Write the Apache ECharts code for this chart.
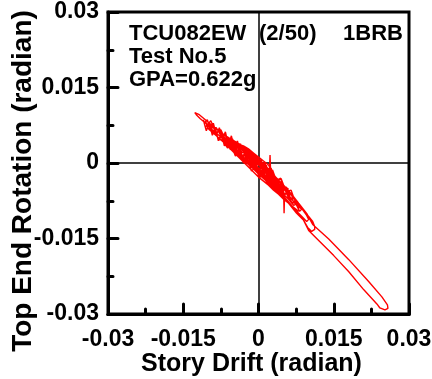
<!DOCTYPE html>
<html>
<head>
<meta charset="utf-8">
<script src="https://cdn.jsdelivr.net/npm/echarts@6/dist/echarts.min.js"></script>
<style>
html,body{margin:0;padding:0;background:#fff;}
#chart{width:432px;height:379px;}
</style>
</head>
<body>
<div id="chart"></div>
<script>
// Axis settings (tick values)
const xTicks = [-0.03, -0.015, 0, 0.015, 0.03];
const yTicks = [-0.03, -0.015, 0, 0.015, 0.03];
const xTitle = 'Story Drift (radian)';
const yTitle = 'Top End Rotation (radian)';
const noteLines = ['TCU082EW', 'Test No.5', 'GPA=0.622g'];
const noteRatio = '(2/50)';
const noteSpec = '1BRB';

// [story drift, top end rotation], in time order
const phaseStart = [
  [0.0000, 0.0000], [0.0006, -0.0010], [0.0014, -0.0020], [0.0020, -0.0028], [0.0014, -0.0026],
  [0.0004, -0.0016], [-0.0008, -0.0004], [-0.0018, 0.0004], [-0.0026, 0.0010], [-0.0020, 0.0012],
  [-0.0010, 0.0004], [0.0000, -0.0004], [0.0010, -0.0012], [0.0018, -0.0020], [0.0026, -0.0030],
  [0.0032, -0.0038], [0.0028, -0.0040], [0.0018, -0.0030], [0.0006, -0.0020], [-0.0006, -0.0008],
  [-0.0018, 0.0002], [-0.0030, 0.0012], [-0.0040, 0.0022], [-0.0046, 0.0030], [-0.0042, 0.0034],
  [-0.0032, 0.0028], [-0.0020, 0.0018], [-0.0008, 0.0006], [0.0004, -0.0004], [0.0014, -0.0010]
];
const phaseSpikes = [
  [0.0022, -0.0012], [0.0023, 0.0016], [0.0024, -0.0014], [0.0030, -0.0026], [0.0038, -0.0034],
  [0.0046, -0.0042], [0.0052, -0.0050], [0.0050, -0.0056], [0.0040, -0.0050], [0.0028, -0.0040],
  [0.0016, -0.0032], [0.0004, -0.0022], [-0.0008, -0.0010], [-0.0020, 0.0000], [-0.0034, 0.0012],
  [-0.0048, 0.0024], [-0.0060, 0.0036], [-0.0070, 0.0046], [-0.0076, 0.0054], [-0.0072, 0.0058],
  [-0.0062, 0.0052], [-0.0050, 0.0044], [-0.0036, 0.0034], [-0.0022, 0.0022], [-0.0010, 0.0010],
  [0.0002, -0.0002], [0.0012, -0.0010], [0.0016, -0.0004], [0.0017, -0.0016], [0.0026, -0.0024],
  [0.0036, -0.0032], [0.0046, -0.0042], [0.0050, -0.0054], [0.0051, -0.0100], [0.0052, -0.0060],
  [0.0060, -0.0064], [0.0068, -0.0074], [0.0074, -0.0082], [0.0070, -0.0084], [0.0060, -0.0072],
  [0.0048, -0.0060], [0.0036, -0.0050], [0.0024, -0.0038], [0.0012, -0.0028], [0.0000, -0.0018]
];
const phaseCore = [
  [0.0050, -0.0060], [0.0040, -0.0046], [0.0030, -0.0024], [0.0020, -0.0004], [0.0010, 0.0004],
  [0.0000, 0.0012], [-0.0010, 0.0020], [-0.0020, 0.0028], [-0.0030, 0.0034], [-0.0036, 0.0036],
  [-0.0032, 0.0028], [-0.0022, 0.0014], [-0.0012, 0.0002], [-0.0002, -0.0012], [0.0008, -0.0026],
  [0.0018, -0.0040], [0.0028, -0.0050], [0.0038, -0.0060], [0.0046, -0.0068], [0.0052, -0.0072],
  [0.0048, -0.0066], [0.0038, -0.0050], [0.0028, -0.0036], [0.0018, -0.0024], [0.0008, -0.0012],
  [-0.0002, 0.0000], [-0.0012, 0.0010], [-0.0022, 0.0018], [-0.0030, 0.0022], [-0.0026, 0.0016],
  [-0.0016, 0.0006], [-0.0006, -0.0006], [0.0004, -0.0016], [0.0014, -0.0026], [0.0022, -0.0034]
];
const phaseWide = [
  [0.0060, -0.0052], [0.0052, -0.0054], [0.0044, -0.0030], [0.0036, -0.0036], [0.0028, -0.0014],
  [0.0020, -0.0020], [0.0012, 0.0002], [0.0004, -0.0008], [-0.0004, 0.0014], [-0.0012, 0.0004],
  [-0.0020, 0.0026], [-0.0028, 0.0018], [-0.0036, 0.0038], [-0.0044, 0.0030], [-0.0052, 0.0048],
  [-0.0060, 0.0044], [-0.0068, 0.0058], [-0.0076, 0.0056], [-0.0084, 0.0070], [-0.0092, 0.0070],
  [-0.0098, 0.0078], [-0.0094, 0.0064], [-0.0086, 0.0058], [-0.0078, 0.0046], [-0.0070, 0.0046],
  [-0.0062, 0.0030], [-0.0054, 0.0034], [-0.0046, 0.0014], [-0.0038, 0.0022], [-0.0030, 0.0000],
  [-0.0022, 0.0008], [-0.0014, -0.0016], [-0.0006, -0.0008], [0.0002, -0.0030], [0.0010, -0.0018],
  [0.0018, -0.0040], [0.0026, -0.0030], [0.0034, -0.0052], [0.0042, -0.0044], [0.0050, -0.0064],
  [0.0058, -0.0060], [0.0066, -0.0078], [0.0074, -0.0080], [0.0082, -0.0096], [0.0086, -0.0092]
];
const phaseMid = [
  [0.0080, -0.0086], [0.0072, -0.0070], [0.0064, -0.0072], [0.0056, -0.0048], [0.0048, -0.0054],
  [0.0040, -0.0032], [0.0032, -0.0038], [0.0024, -0.0016], [0.0016, -0.0024], [0.0008, -0.0004],
  [0.0000, -0.0014], [-0.0008, 0.0008], [-0.0016, 0.0000], [-0.0024, 0.0022], [-0.0032, 0.0014],
  [-0.0040, 0.0034], [-0.0048, 0.0026], [-0.0056, 0.0046], [-0.0064, 0.0040], [-0.0070, 0.0054],
  [-0.0072, 0.0048], [-0.0066, 0.0034], [-0.0058, 0.0044], [-0.0050, 0.0022], [-0.0042, 0.0032],
  [-0.0034, 0.0008], [-0.0026, 0.0018], [-0.0018, -0.0006], [-0.0010, 0.0004], [-0.0002, -0.0020],
  [0.0006, -0.0008], [0.0014, -0.0030], [0.0022, -0.0020], [0.0030, -0.0044], [0.0038, -0.0034],
  [0.0046, -0.0058], [0.0054, -0.0050], [0.0060, -0.0070]
];
const phaseBand = [
  [0.0070, -0.0069], [0.0060, -0.0070], [0.0050, -0.0046], [0.0040, -0.0050], [0.0030, -0.0027],
  [0.0020, -0.0032], [0.0010, -0.0011], [0.0000, -0.0018], [-0.0010, 0.0004], [-0.0020, -0.0001],
  [-0.0030, 0.0022], [-0.0040, 0.0016], [-0.0050, 0.0038], [-0.0060, 0.0032], [-0.0070, 0.0054],
  [-0.0080, 0.0048], [-0.0090, 0.0071], [-0.0100, 0.0068], [-0.0106, 0.0083], [-0.0102, 0.0076],
  [-0.0095, 0.0084], [-0.0085, 0.0060], [-0.0075, 0.0066], [-0.0065, 0.0044], [-0.0055, 0.0050],
  [-0.0045, 0.0028], [-0.0035, 0.0036], [-0.0025, 0.0012], [-0.0015, 0.0020], [-0.0005, -0.0005],
  [0.0005, 0.0006], [0.0015, -0.0019], [0.0025, -0.0010], [0.0035, -0.0037], [0.0045, -0.0031],
  [0.0055, -0.0057], [0.0065, -0.0054], [0.0075, -0.0082], [0.0080, -0.0084]
];
const phaseEdge = [
  [0.0080, -0.0096], [0.0070, -0.0088], [0.0060, -0.0080], [0.0050, -0.0072], [0.0040, -0.0062],
  [0.0030, -0.0054], [0.0020, -0.0044], [0.0010, -0.0036], [0.0000, -0.0028], [-0.0010, -0.0018],
  [-0.0020, -0.0008], [-0.0030, 0.0002], [-0.0040, 0.0012], [-0.0050, 0.0022], [-0.0060, 0.0032],
  [-0.0066, 0.0038], [-0.0062, 0.0046], [-0.0052, 0.0046], [-0.0042, 0.0040], [-0.0032, 0.0034],
  [-0.0022, 0.0026], [-0.0012, 0.0018], [-0.0002, 0.0010], [0.0008, 0.0000], [0.0018, -0.0010],
  [0.0028, -0.0020], [0.0036, -0.0030], [0.0040, -0.0036]
];
const phaseUpper = [
  [-0.0030, 0.0034], [-0.0036, 0.0017], [-0.0042, 0.0044], [-0.0048, 0.0026], [-0.0054, 0.0054],
  [-0.0060, 0.0036], [-0.0066, 0.0062], [-0.0072, 0.0046], [-0.0078, 0.0070], [-0.0084, 0.0056],
  [-0.0090, 0.0079], [-0.0096, 0.0066], [-0.0102, 0.0086], [-0.0108, 0.0080], [-0.0110, 0.0086],
  [-0.0104, 0.0064], [-0.0098, 0.0080], [-0.0092, 0.0055], [-0.0086, 0.0069], [-0.0080, 0.0044],
  [-0.0074, 0.0059], [-0.0068, 0.0034], [-0.0062, 0.0050], [-0.0056, 0.0026], [-0.0050, 0.0040],
  [-0.0044, 0.0017], [-0.0038, 0.0031], [-0.0032, 0.0008], [-0.0026, 0.0020], [-0.0020, 0.0000]
];
const phaseLarge = [
  [-0.0014, 0.0000], [-0.0030, 0.0012], [-0.0046, 0.0026], [-0.0062, 0.0040], [-0.0078, 0.0054],
  [-0.0092, 0.0066], [-0.0104, 0.0078], [-0.0116, 0.0088], [-0.0124, 0.0096], [-0.0127, 0.0100],
  [-0.0125, 0.0101], [-0.0118, 0.0096], [-0.0106, 0.0086], [-0.0094, 0.0076], [-0.0080, 0.0064],
  [-0.0066, 0.0054], [-0.0052, 0.0044], [-0.0038, 0.0034], [-0.0024, 0.0022], [-0.0010, 0.0010],
  [0.0004, -0.0002], [0.0018, -0.0014], [0.0032, -0.0028], [0.0046, -0.0042], [0.0060, -0.0058],
  [0.0074, -0.0074], [0.0088, -0.0092], [0.0100, -0.0106], [0.0108, -0.0116], [0.0112, -0.0126],
  [0.0112, -0.0132], [0.0106, -0.0136], [0.0098, -0.0128], [0.0090, -0.0114], [0.0078, -0.0100],
  [0.0064, -0.0082], [0.0050, -0.0066], [0.0036, -0.0052], [0.0022, -0.0040], [0.0008, -0.0028],
  [-0.0006, -0.0014], [-0.0020, -0.0002], [-0.0036, 0.0012], [-0.0052, 0.0026], [-0.0068, 0.0040],
  [-0.0084, 0.0054], [-0.0098, 0.0066], [-0.0104, 0.0074], [-0.0100, 0.0078], [-0.0088, 0.0070],
  [-0.0074, 0.0060], [-0.0060, 0.0050], [-0.0046, 0.0040], [-0.0032, 0.0030], [-0.0018, 0.0018],
  [-0.0004, 0.0006], [0.0010, -0.0006], [0.0024, -0.0018], [0.0038, -0.0032], [0.0052, -0.0046],
  [0.0066, -0.0062], [0.0080, -0.0080], [0.0096, -0.0100]
];
const phasePeak = [
  [0.0108, -0.0122], [0.0140, -0.0151], [0.0180, -0.0192], [0.0220, -0.0236], [0.0246, -0.0266],
  [0.0257, -0.0282], [0.0258, -0.0289], [0.0252, -0.0292], [0.0242, -0.0288], [0.0236, -0.0280],
  [0.0210, -0.0252], [0.0180, -0.0216], [0.0150, -0.0184], [0.0122, -0.0156], [0.0100, -0.0134],
  [0.0094, -0.0122], [0.0090, -0.0114]
];
const phaseDecay = [
  [0.0076, -0.0100], [0.0060, -0.0080], [0.0044, -0.0064], [0.0028, -0.0048], [0.0012, -0.0032],
  [-0.0004, -0.0016], [-0.0020, -0.0002], [-0.0036, 0.0012], [-0.0052, 0.0026], [-0.0064, 0.0038],
  [-0.0070, 0.0046], [-0.0066, 0.0050], [-0.0054, 0.0042], [-0.0040, 0.0032], [-0.0026, 0.0020],
  [-0.0012, 0.0008], [0.0002, -0.0004], [0.0016, -0.0016], [0.0030, -0.0028], [0.0044, -0.0040],
  [0.0058, -0.0054], [0.0072, -0.0072], [0.0086, -0.0090], [0.0096, -0.0104], [0.0100, -0.0112],
  [0.0096, -0.0116], [0.0086, -0.0106], [0.0072, -0.0092], [0.0058, -0.0076], [0.0044, -0.0062],
  [0.0030, -0.0048], [0.0016, -0.0036], [0.0002, -0.0024], [-0.0012, -0.0010], [-0.0026, 0.0002],
  [-0.0040, 0.0016], [-0.0054, 0.0028], [-0.0060, 0.0036], [-0.0056, 0.0040], [-0.0044, 0.0034],
  [-0.0030, 0.0026], [-0.0018, 0.0022], [-0.0006, 0.0014], [0.0006, 0.0002], [0.0016, -0.0008],
  [0.0026, -0.0020], [0.0040, -0.0034], [0.0050, -0.0046], [0.0048, -0.0052], [0.0036, -0.0044],
  [0.0022, -0.0034], [0.0008, -0.0022], [-0.0006, -0.0010], [-0.0020, 0.0002], [-0.0032, 0.0014],
  [-0.0036, 0.0022], [-0.0028, 0.0028], [-0.0016, 0.0022], [-0.0004, 0.0012], [0.0006, -0.0002],
  [0.0018, -0.0016], [0.0026, -0.0026], [0.0022, -0.0030], [0.0010, -0.0022], [-0.0002, -0.0012],
  [-0.0012, -0.0004], [-0.0016, 0.0000], [-0.0010, -0.0002], [0.0000, -0.0010], [0.0008, -0.0018],
  [0.0012, -0.0022]
];

const response = [].concat(phaseStart, phaseSpikes, phaseCore, phaseWide, phaseMid,
  phaseBand, phaseEdge, phaseUpper, phaseLarge, phasePeak, phaseDecay);

const FONT = '"Liberation Sans", Arial, Helvetica, sans-serif';
const fmt = v => { const r = Math.round(v * 1000) / 1000; return r === 0 ? '0' : String(r); };

function axisCommon(ticks) {
  return {
    type: 'value',
    min: ticks[0],
    max: ticks[ticks.length - 1],
    interval: ticks[1] - ticks[0],
    splitLine: { show: false },
    minorSplitLine: { show: false },
    nameMoveOverlap: false,
    axisLine: { show: true, onZero: false, lineStyle: { color: '#000', width: 3 } },
    axisTick: { show: true, inside: true, length: 10, lineStyle: { color: '#000', width: 3, cap: 'round' } },
    minorTick: { show: true, splitNumber: 2, length: 5, lineStyle: { color: '#000', width: 3, cap: 'round' } },
    axisLabel: {
      color: '#000', fontWeight: 'bold', fontSize: 23, fontFamily: FONT,
      showMinLabel: true, showMaxLabel: true, hideOverlap: false, formatter: fmt
    }
  };
}

const chart = echarts.init(document.getElementById('chart'), null, { renderer: 'canvas' });

const xAxis = axisCommon(xTicks);
xAxis.axisLabel.margin = 14;
xAxis.name = xTitle;
xAxis.nameLocation = 'middle';
xAxis.nameGap = 38;
xAxis.nameTextStyle = { color: '#000', fontWeight: 'bold', fontSize: 25, fontFamily: FONT, padding: [0, 14, 0, 0] };

const yAxis = axisCommon(yTicks);
yAxis.axisLabel.margin = 9;
yAxis.name = yTitle;
yAxis.nameLocation = 'middle';
yAxis.nameGap = 71;
yAxis.nameTextStyle = { color: '#000', fontWeight: 'bold', fontSize: 28, fontFamily: FONT, padding: [0, 36, 0, 0] };

const noteStyle = { fill: '#000', font: 'bold 22px ' + FONT, textVerticalAlign: 'middle' };

chart.setOption({
  animation: false,
  backgroundColor: '#fff',
  grid: {
    left: 108, right: 23, top: 12, bottom: 65,
    containLabel: false, outerBoundsMode: 'none',
    show: true, borderColor: '#000', borderWidth: 3, backgroundColor: 'transparent'
  },
  xAxis: xAxis,
  yAxis: yAxis,
  series: [{
    type: 'line',
    data: response,
    showSymbol: false,
    symbol: 'none',
    smooth: false,
    clip: true,
    lineStyle: { color: '#ff0000', width: 1.4 },
    z: 3,
    markLine: {
      silent: true,
      symbol: ['none', 'none'],
      label: { show: false },
      lineStyle: { color: '#000', width: 1.5, type: 'solid' },
      z: 2,
      data: [{ xAxis: 0 }, { yAxis: 0 }]
    }
  }],
  graphic: [
    { type: 'text', left: 129, top: 23, style: Object.assign({ text: noteLines[0] }, noteStyle) },
    { type: 'text', left: 129, top: 46, style: Object.assign({ text: noteLines[1] }, noteStyle) },
    { type: 'text', left: 129, top: 69, style: Object.assign({ text: noteLines[2] }, noteStyle) },
    { type: 'text', left: 259, top: 23, style: Object.assign({ text: noteRatio }, noteStyle) },
    { type: 'text', right: 29, top: 23, style: Object.assign({ text: noteSpec }, noteStyle) }
  ]
});
</script>
</body>
</html>
